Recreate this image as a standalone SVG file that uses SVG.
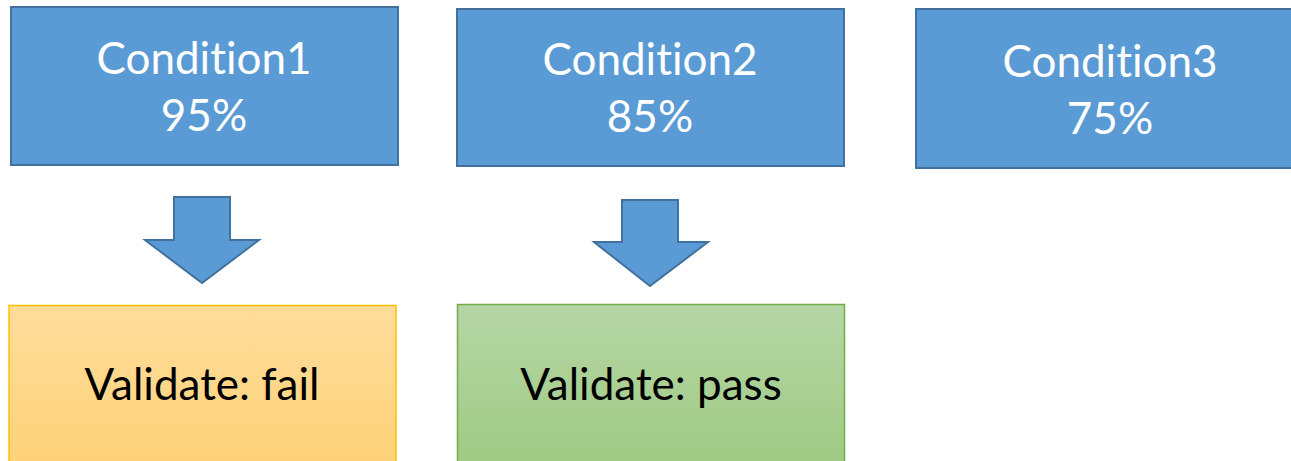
<svg xmlns="http://www.w3.org/2000/svg" width="1291" height="461" viewBox="0 0 1291 461">
  <defs>
    <linearGradient id="gradFail" x1="0" y1="0" x2="0" y2="1">
      <stop offset="0" stop-color="#FEDC9B"/>
      <stop offset="1" stop-color="#FDD278"/>
    </linearGradient>
    <linearGradient id="gradPass" x1="0" y1="0" x2="0" y2="1">
      <stop offset="0" stop-color="#B6D6A5"/>
      <stop offset="1" stop-color="#9FCA84"/>
    </linearGradient>
  </defs>
  <style>
    .cond { fill: #5B9BD5; stroke: #41719C; stroke-width: 2; }
    .arrow { fill: #5B9BD5; stroke: #41719C; stroke-width: 2; stroke-linejoin: miter; }
    .fail { fill: url(#gradFail); stroke: #FFC000; stroke-width: 1.5; }
    .pass { fill: url(#gradPass); stroke: #70AD47; stroke-width: 1.5; }
    .lbl { font-family: Lato, "Liberation Sans", sans-serif; font-size: 44px; text-anchor: middle; font-variant-ligatures: none; font-feature-settings: "liga" 0, "dlig" 0; }
    .white { fill: #FFFFFF; }
    .dark { fill: #000000; font-size: 44px; }
  </style>

  <rect width="1291" height="461" fill="#FFFFFF"/>

  <g id="condition1">
    <rect class="cond" x="11" y="7" width="387" height="158"/>
    <text class="lbl white" x="204" y="74">Condition1</text>
    <text class="lbl white" x="204" y="131">95%</text>
  </g>

  <g id="condition2">
    <rect class="cond" x="457" y="9" width="387" height="157"/>
    <text class="lbl white" x="650" y="75">Condition2</text>
    <text class="lbl white" x="650" y="132">85%</text>
  </g>

  <g id="condition3">
    <rect class="cond" x="916" y="9" width="380" height="159"/>
    <text class="lbl white" x="1110" y="77">Condition3</text>
    <text class="lbl white" x="1110" y="134">75%</text>
  </g>

  <g id="validate-fail">
    <rect class="fail" x="9" y="305.5" width="387" height="160"/>
    <text class="lbl dark" x="202" y="400">Validate: fail</text>
  </g>

  <g id="validate-pass">
    <rect class="pass" x="457.5" y="304.5" width="387" height="160"/>
    <text class="lbl dark" x="651" y="400">Validate: pass</text>
  </g>

  <g id="connectors">
    <path class="arrow" d="M174,197 H230 V240 H259 L202,283 L145,240 H174 Z"/>
    <path class="arrow" d="M622,200 H678 V242 H708 L650,286 L594,242 H622 Z"/>
  </g>
</svg>
